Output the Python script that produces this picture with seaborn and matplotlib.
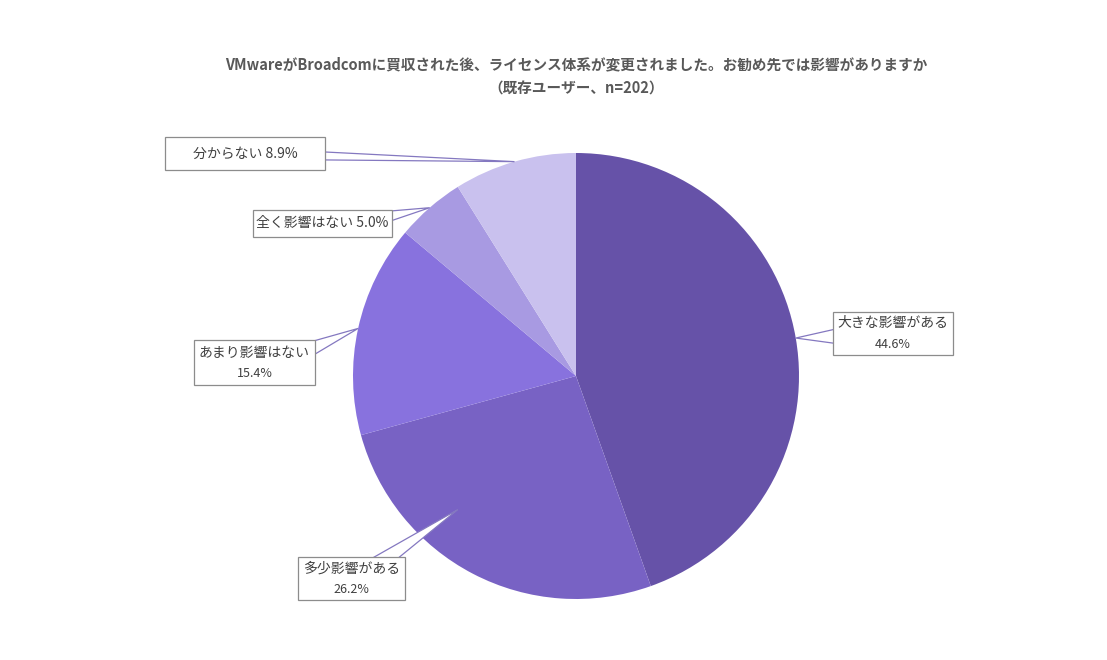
import numpy as np
import matplotlib
matplotlib.use('Agg')
import matplotlib.pyplot as plt
from matplotlib.patches import Polygon
import seaborn as sns

# データ
categories = ['大きな影響がある', '多少影響がある', 'あまり影響はない', '全く影響はない', '分からない']
values = [44.6, 26.2, 15.4, 5.0, 8.9]
colors = ['#6652A8', '#7862C4', '#8872DE', '#A89AE2', '#C9C1EE']
title = 'VMwareがBroadcomに買収された後、ライセンス体系が変更されました。お勧め先では影響がありますか'
subtitle = '（既存ユーザー、n=202）'

sns.set_theme(style='white')
plt.rcParams['font.family'] = ['Noto Sans CJK JP', 'DejaVu Sans']

W, H = 1107, 660
fig = plt.figure(figsize=(W / 100, H / 100), dpi=100)
ax = fig.add_axes([0, 0, 1, 1])

cx, cy, r = 576, 660 - 376, 223
wedges, _ = ax.pie(values, colors=colors, startangle=90, counterclock=False,
                   center=(cx, cy), radius=r, frame=True,
                   wedgeprops=dict(linewidth=0))
ax.set_xlim(0, W)
ax.set_ylim(0, H)
ax.set_aspect('equal')
ax.axis('off')

# ラベル配置 (画像座標の箱, 2行かどうか, 先端の半径比, 角度補正, 根元の幅)
label_layout = {
    '大きな影響がある': dict(box=(833, 312, 953, 355), two=True, rf=1.0, da=0, hw=7),
    '多少影響がある': dict(box=(298, 557, 405, 600), two=True, rf=0.8, da=-14, hw=13),
    'あまり影響はない': dict(box=(194, 340, 315, 385), two=True, rf=1.0, da=0, hw=7),
    '全く影響はない': dict(box=(253, 210, 392, 237), two=False, rf=1.0, da=0, hw=5),
    '分からない': dict(box=(165, 137, 325, 170), two=False, rf=1.0, da=0, hw=4),
}

for w, cat, val in zip(wedges, categories, values):
    lay = label_layout[cat]
    mid = np.deg2rad((w.theta1 + w.theta2) / 2 + lay['da'])
    tip = np.array([cx + r * lay['rf'] * np.cos(mid), cy + r * lay['rf'] * np.sin(mid)])
    x0, y0, x1, y1 = lay['box']
    bx0, bx1 = x0, x1
    by0, by1 = H - y1, H - y0
    bc = np.array([(bx0 + bx1) / 2, (by0 + by1) / 2])
    # 吹き出しの根元は箱の縁の上
    d = tip - bc
    d = d / np.linalg.norm(d)
    tx = (bx1 - bc[0]) / d[0] if d[0] > 0 else (bx0 - bc[0]) / d[0] if d[0] < 0 else np.inf
    ty = (by1 - bc[1]) / d[1] if d[1] > 0 else (by0 - bc[1]) / d[1] if d[1] < 0 else np.inf
    edge = bc + d * min(tx, ty)
    hw = lay['hw']
    if tx < ty:
        # 左右の辺
        yy = np.clip(edge[1], by0 + hw + 1, by1 - hw - 1)
        inset = -1.5 if d[0] > 0 else 1.5
        p1 = (edge[0] + inset, yy + hw)
        p2 = (edge[0] + inset, yy - hw)
    else:
        # 上下の辺
        xx = np.clip(edge[0], bx0 + hw + 1, bx1 - hw - 1)
        inset = -1.5 if d[1] > 0 else 1.5
        p1 = (xx - hw, edge[1] + inset)
        p2 = (xx + hw, edge[1] + inset)
    poly = Polygon([p1, tip, p2], closed=True,
                   facecolor='white', edgecolor='#8478C0', linewidth=0.9, zorder=5)
    ax.add_patch(poly)
    rect = plt.Rectangle((bx0, by0), bx1 - bx0, by1 - by0, facecolor='white',
                         edgecolor='#8C8C8C', linewidth=0.9, zorder=6)
    ax.add_patch(rect)
    if lay['two']:
        ax.text(bc[0], bc[1] + 10, cat, ha='center', va='center', fontsize=10,
                color='#404040', zorder=7)
        ax.text(bc[0], bc[1] - 11, f'{val:.1f}%', ha='center', va='center',
                fontsize=9, color='#404040', zorder=7)
    else:
        ax.text(bc[0], bc[1], f'{cat} {val:.1f}%', ha='center', va='center',
                fontsize=10, color='#404040', zorder=7)

fig.text(576 / W, 1 - 64 / H, title, ha='center', va='center', fontsize=10.5,
         fontweight='bold', color='#595959')
fig.text(576 / W, 1 - 89 / H, subtitle, ha='center', va='center', fontsize=10.5,
         fontweight='bold', color='#595959')

fig.savefig('out.png', dpi=100, facecolor='white')
